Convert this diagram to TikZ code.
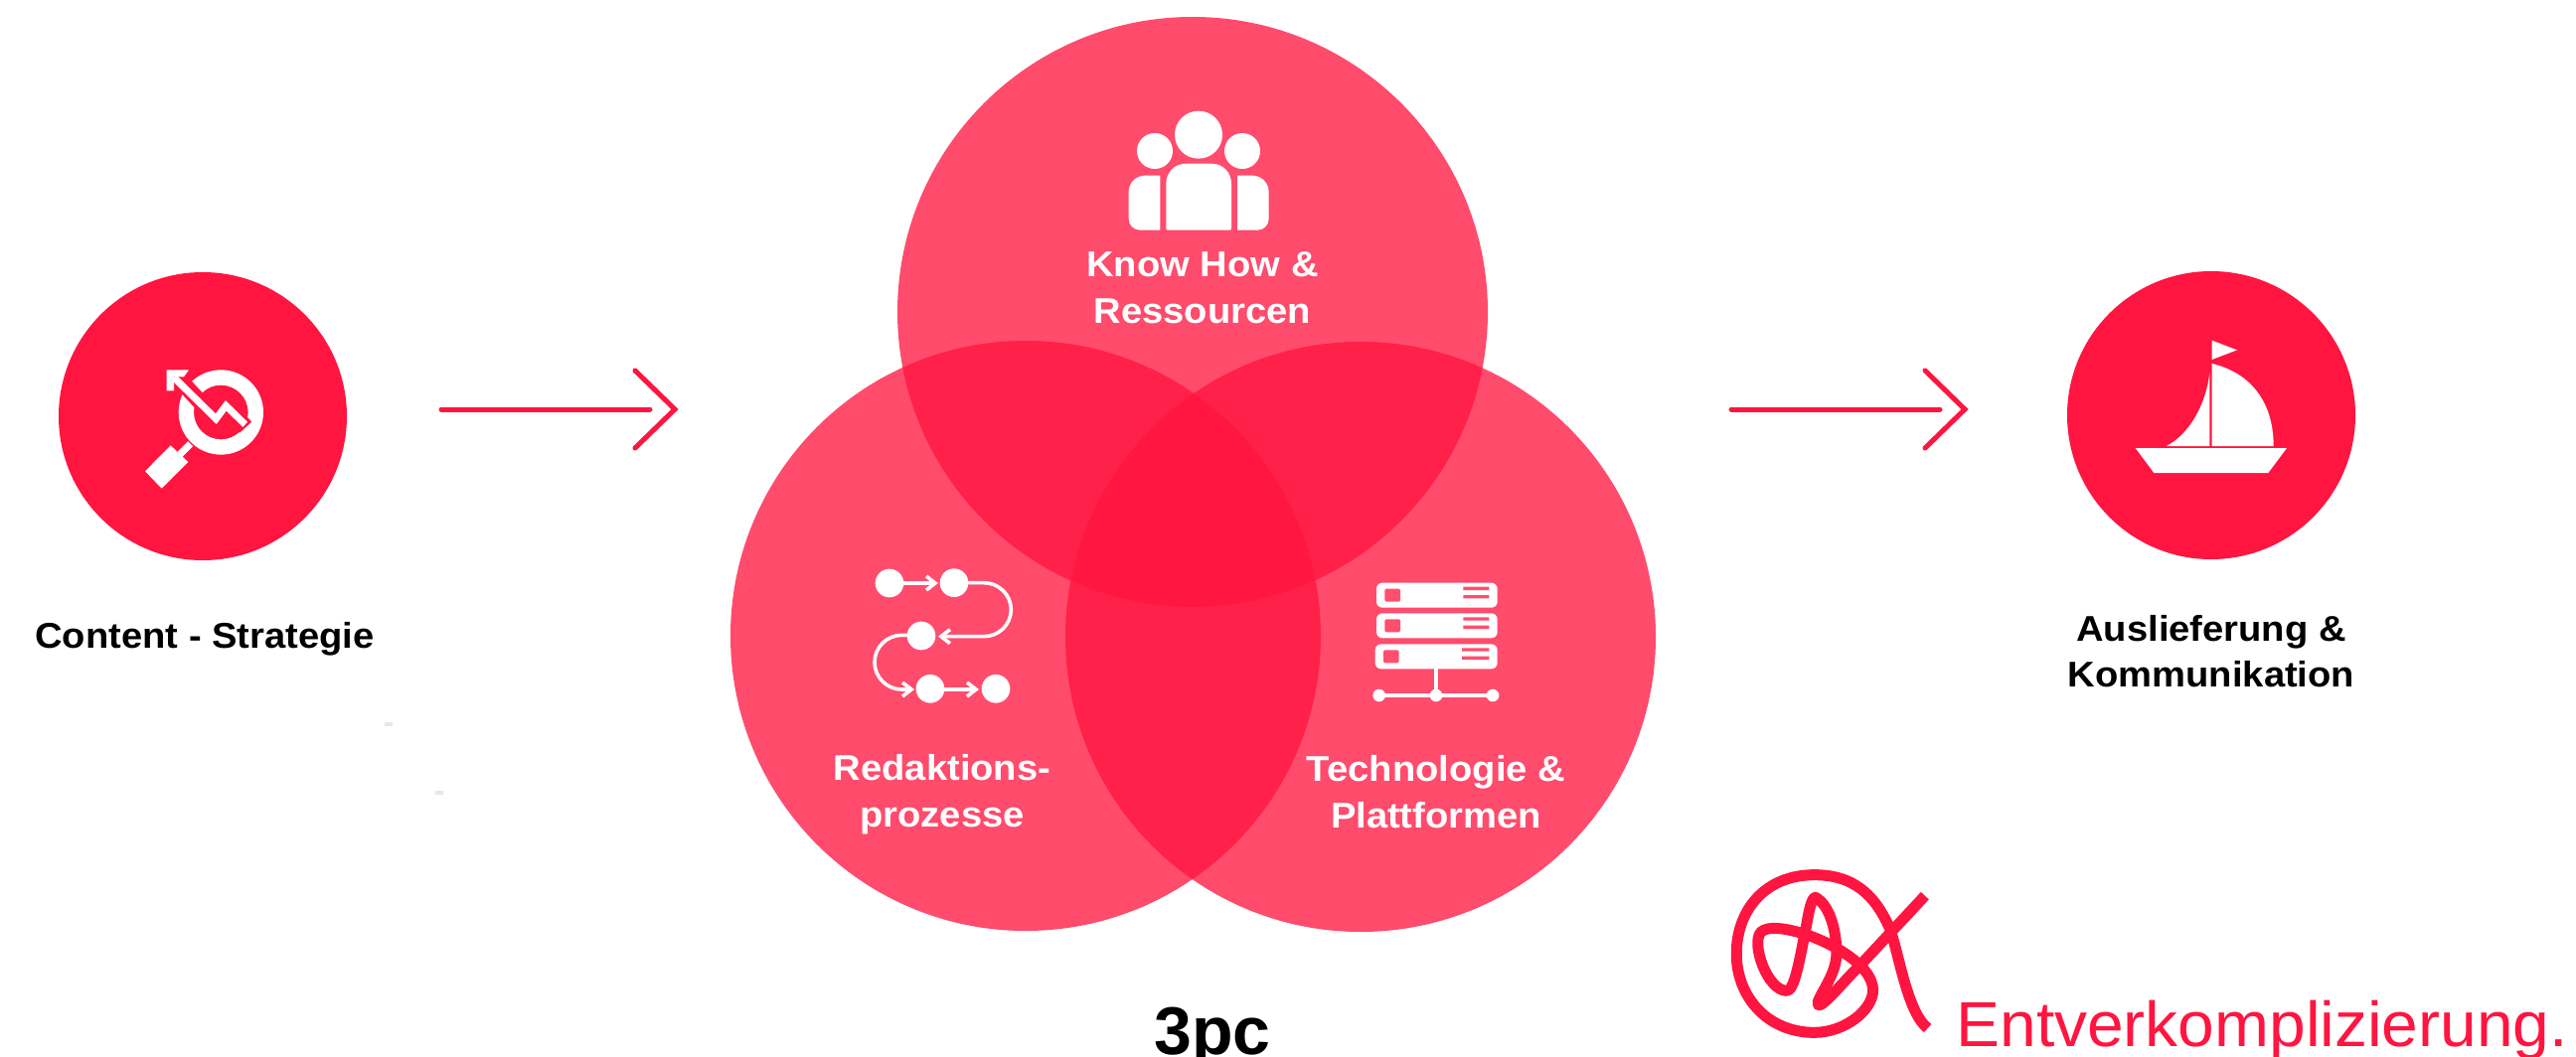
\documentclass[tikz,border=0pt]{standalone}
\usepackage{fontspec}
\setmainfont{Liberation Sans}
\newfontfamily\labfont[FakeStretch=1.06]{Liberation Sans}
\newfontfamily\entfont[FakeStretch=1.03]{Liberation Sans}
\usetikzlibrary{arrows.meta}
\definecolor{redmain}{HTML}{FF1540}
\definecolor{redlight}{HTML}{FF4F6E}
\tikzset{
  vennc/.style={circle,fill=redmain,fill opacity=.77,draw=none,inner sep=0pt,minimum size=297pt},
  solidc/.style={circle,fill=redmain,draw=none,inner sep=0pt,minimum size=145pt},
  flow/.style={draw=redmain,line width=2.5pt,line cap=round,line join=miter},
  whitelab/.style={text=white,font=\fontsize{18}{23.5}\selectfont\labfont\bfseries,align=center,inner sep=0pt},
  blacklab/.style={text=black,font=\fontsize{18}{23}\selectfont\labfont\bfseries,align=center,inner sep=0pt},
  mini/.style={-{Straight Barb[length=4.5pt,width=7pt,line width=1.8pt]},white,line width=1.8pt},
  speck/.style={fill=black!9,draw=none},
}
\begin{document}
\begin{tikzpicture}[x=.5pt,y=-.5pt]
\useasboundingbox[fill=white] (0,0) rectangle (2592,1064);
% Venn
\node[vennc] (top) at (1200,314) {};
\node[vennc] (left) at (1032,640) {};
\node[vennc] (right) at (1369,641) {};
% solid circles
\node[solidc] (strategy) at (204,419) {};
\node[solidc] (delivery) at (2225,418) {};
% arrows
\coordinate (a1s) at (444,412);
\coordinate (a1e) at (654,412);
\coordinate (a1t) at (679,412);
\coordinate (a1u) at (639,373);
\coordinate (a1d) at (639,451);
\coordinate (a2s) at (1742,412);
\coordinate (a2e) at (1952,412);
\coordinate (a2t) at (1977,412);
\coordinate (a2u) at (1937,373);
\coordinate (a2d) at (1937,451);
\draw[flow] (a1s) -- (a1e);
\draw[flow] (a1u) -- (a1t) -- (a1d);
\draw[flow] (a2s) -- (a2e);
\draw[flow] (a2u) -- (a2t) -- (a2d);
% specks
\fill[speck] (387,727) rectangle (395,731);
\fill[speck] (438,796) rectangle (446,800);
% labels
\node[blacklab,anchor=base] (lstrategy) at (206,652) {Content - Strategie};
\node[blacklab] (ldelivery) at (2225,656) {Auslieferung \&\\Kommunikation};
\node[whitelab] (ltop) at (1210,290) {Know How \&\\Ressourcen};
\node[whitelab] (lleft) at (948,800) {Redaktions-\\prozesse};
\node[whitelab] (lright) at (1445,797) {Technologie \&\\Plattformen};
\node[anchor=base,inner sep=0pt,font=\fontsize{34}{34}\selectfont\bfseries] (lpc) at (1220,1061) {3pc};
\node[anchor=base west,inner sep=0pt,text=redmain,font=\fontsize{32}{32}\selectfont\entfont] (lent) at (1968,1053) {Entverkomplizierung.};
% target icon
\begin{scope}[shift={(130,340)},x=.1666667pt,y=-.1666667pt]
 \fill[white,even odd rule] (277,225) circle (128) (277,225) circle (82);
 \draw[white,line width=3.5pt] (185,320) -- (150,355);
 \fill[white] (125,325) -- (178,375) -- (98,455) -- (48,403) -- cycle;
 \draw[redmain,line width=8pt] (150,125) -- (262,245) -- (292,205) -- (352,270);
 \draw[white,line width=3.5pt] (135,120) -- (262,245) -- (292,205) -- (350,262);
 \fill[white] (113,97) -- (180,97) -- (165,118) -- (135,118) -- (135,160) -- (113,160) -- cycle;
\end{scope}
% people icon
\begin{scope}[shift={(1030,90)},x=.1666667pt,y=-.1666667pt]
 \fill[white] (528,137) circle (72) (396,186) circle (54) (660,186) circle (54);
 \fill[white] (430,419) -- (430,284) .. controls (430,250) and (456,224) .. (490,224) -- (567,224) .. controls (601,224) and (627,250) .. (627,284) -- (627,419) .. controls (627,423) and (625,425) .. (621,425) -- (436,425) .. controls (432,425) and (430,423) .. (430,419) -- cycle;
 \fill[white] (412,260) -- (412,425) -- (352,425) .. controls (332,425) and (317,410) .. (317,390) -- (317,310) .. controls (317,282) and (339,260) .. (367,260) -- cycle;
 \fill[white] (645,260) -- (645,425) -- (705,425) .. controls (725,425) and (740,410) .. (740,390) -- (740,310) .. controls (740,282) and (718,260) .. (690,260) -- cycle;
\end{scope}
% process icon
\begin{scope}[shift={(800,550)},x=.1666667pt,y=-.1666667pt]
 \fill[white] (285,111) circle (43) (480,110) circle (43) (381,270) circle (43) (408,430) circle (43) (606,430) circle (43);
 \draw[mini] (325,111) -- (432,111);
 \draw[mini] (520,110) -- (570,110) .. controls (615,110) and (652,146) .. (652,191) .. controls (652,236) and (615,272) .. (570,272) -- (432,272);
 \draw[mini] (340,268) -- (322,268) .. controls (277,268) and (240,305) .. (240,350) .. controls (240,395) and (277,432) .. (322,432) -- (360,432);
 \draw[mini] (450,432) -- (555,432);
\end{scope}
% server icon
\begin{scope}[shift={(1290,560)},x=.1666667pt,y=-.1666667pt]
 \foreach \yy/\dd in {80/0,172/0,265/-4}{
  \fill[white,rounded corners=3pt] (285+\dd,\yy) rectangle (650,\yy+75);
  \fill[redlight,rounded corners=.7pt] (310+\dd,\yy+18) rectangle (357+\dd,\yy+57);
  \fill[redlight] (547+\dd,\yy+12) rectangle (625,\yy+22) (547+\dd,\yy+37) rectangle (625,\yy+47);
 }
 \draw[white,line width=2pt] (465,340) -- (465,420) (293,420) -- (636,420);
 \fill[white] (293,420) circle (19) (465,420) circle (19) (636,420) circle (19);
\end{scope}
% boat icon
\begin{scope}[shift={(2050,290)},x=.1666667pt,y=-.1666667pt]
 \fill[white] (296,483) -- (753,483) -- (697,558) -- (352,558) -- cycle;
 \fill[white] (527,158) -- (603,187) -- (527,216) -- cycle;
 \fill[white] (390,477) .. controls (460,440) and (510,350) .. (520,255) -- (520,477) -- cycle;
 \fill[white] (527,228) .. controls (640,255) and (713,340) .. (713,477) -- (527,477) -- cycle;
\end{scope}
% logo
\begin{scope}[shift={(1720,860)},x=.278pt,y=-.1666667pt]
 \draw[redmain,line width=5.5pt,line join=round] (395,525)
  .. controls (360,480) and (345,320) .. (328,230)
  .. controls (300,120) and (260,62) .. (190,62)
  .. controls (100,62) and (49,170) .. (49,300)
  .. controls (49,430) and (105,538) .. (190,538)
  .. controls (245,538) and (296,470) .. (296,410)
  .. controls (296,340) and (230,275) .. (180,245)
  .. controls (140,222) and (105,215) .. (93,235)
  .. controls (75,270) and (105,412) .. (140,412)
  .. controls (155,412) and (165,300) .. (175,220)
  .. controls (180,170) and (185,130) .. (192,130)
  .. controls (215,150) and (230,220) .. (230,300)
  .. controls (230,370) and (190,440) .. (197,455)
  .. controls (204,465) and (250,370) .. (270,340)
  -- (390,125);
\end{scope}
\end{tikzpicture}
\end{document}
